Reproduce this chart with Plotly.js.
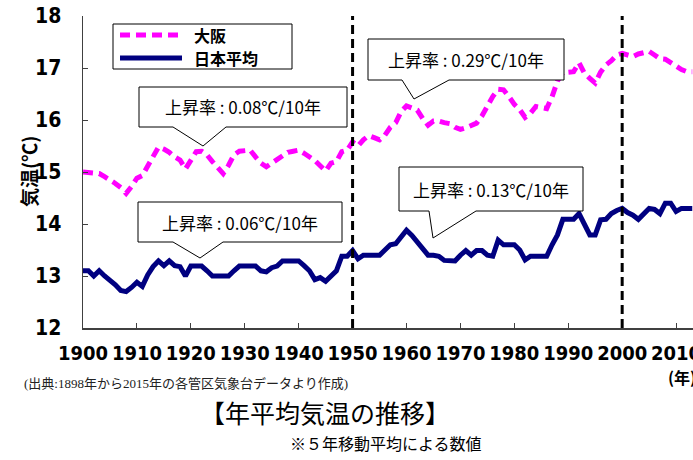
<!DOCTYPE html>
<html>
<head>
<meta charset="utf-8">
<script src="https://cdn.plot.ly/plotly-3.0.1.min.js"></script>
<style>
html,body{margin:0;padding:0;background:#fff;overflow:hidden;width:693px;height:460px;}
#chart{width:740px;height:460px;}
</style>
</head>
<body>
<div id="chart"></div>
<script>
const years = [
1900,1901,1902,1903,1904,1905,1906,1907,1908,1909,
1910,1911,1912,1913,1914,1915,1916,1917,1918,1919,
1920,1921,1922,1923,1924,1925,1926,1927,1928,1929,
1930,1931,1932,1933,1934,1935,1936,1937,1938,1939,
1940,1941,1942,1943,1944,1945,1946,1947,1948,1949,
1950,1951,1952,1953,1954,1955,1956,1957,1958,1959,
1960,1961,1962,1963,1964,1965,1966,1967,1968,1969,
1970,1971,1972,1973,1974,1975,1976,1977,1978,1979,
1980,1981,1982,1983,1984,1985,1986,1987,1988,1989,
1990,1991,1992,1993,1994,1995,1996,1997,1998,1999,
2000,2001,2002,2003,2004,2005,2006,2007,2008,2009,
2010,2011,2012,2013];

const osaka = [
15.00,14.99,14.98,14.97,14.91,14.85,14.78,14.70,14.59,14.72,
14.88,14.93,15.10,15.29,15.48,15.44,15.38,15.29,15.23,15.06,
15.22,15.39,15.40,15.33,15.20,15.07,14.97,15.13,15.33,15.40,
15.42,15.42,15.29,15.17,15.10,15.17,15.26,15.33,15.38,15.40,
15.42,15.36,15.29,15.22,15.12,15.02,15.17,15.20,15.39,15.42,
15.58,15.50,15.62,15.70,15.66,15.62,15.71,15.86,15.95,16.16,
16.27,16.24,16.19,16.03,15.90,15.98,15.98,15.95,15.93,15.86,
15.82,15.85,15.90,15.94,16.08,16.29,16.45,16.59,16.58,16.45,
16.30,16.20,16.05,16.13,16.26,16.24,16.22,16.45,16.75,16.91,
16.92,16.93,17.10,16.90,16.80,16.71,16.92,17.06,17.14,17.25,
17.28,17.24,17.22,17.27,17.30,17.32,17.25,17.18,17.17,17.10,
17.02,16.97,16.93,16.93];

const japan = [
13.10,13.10,13.00,13.10,13.00,12.92,12.83,12.72,12.70,12.78,
12.88,12.80,13.02,13.18,13.29,13.20,13.29,13.20,13.18,13.00,
13.19,13.19,13.19,13.10,13.00,13.00,13.00,13.00,13.10,13.19,
13.19,13.19,13.19,13.10,13.08,13.16,13.19,13.29,13.29,13.29,
13.29,13.20,13.10,12.93,12.97,12.90,13.00,13.10,13.38,13.38,
13.49,13.33,13.40,13.40,13.40,13.40,13.50,13.60,13.62,13.76,
13.88,13.78,13.66,13.52,13.40,13.40,13.38,13.30,13.29,13.29,
13.40,13.49,13.40,13.49,13.49,13.40,13.38,13.69,13.60,13.60,
13.60,13.50,13.31,13.38,13.38,13.38,13.38,13.60,13.79,14.09,
14.09,14.09,14.20,14.00,13.79,13.79,14.08,14.09,14.20,14.26,
14.30,14.22,14.17,14.09,14.20,14.30,14.28,14.20,14.40,14.40,
14.24,14.30,14.30,14.30];

const seriesNames = ['大阪', '日本平均'];
const xTicks = [1900,1910,1920,1930,1940,1950,1960,1970,1980,1990,2000,2010,2020];
const yTicks = [12,13,14,15,16,17,18];
const dividerYears = [1950, 2000];
const rateLabels = ['上昇率 : 0.08℃/10年','上昇率 : 0.29℃/10年','上昇率 : 0.06℃/10年','上昇率 : 0.13℃/10年'];

// pixel -> paper helpers (plot area: left 83, top 16, width 647, height 312)
const L = 83, T = 16, PW = 647, PH = 312;
const px = x => (x - L) / PW;
const py = y => (T + PH - y) / PH;

const CJK = '"Noto Sans CJK JP", "Noto Sans", sans-serif';
const NUM = '"Liberation Sans Narrow", "Arial Narrow", "DejaVu Sans Condensed", "Liberation Sans", sans-serif';

const traces = [
  {x: years, y: osaka, type: 'scatter', mode: 'lines', name: seriesNames[0], showlegend: false,
   line: {color: '#FF00FF', width: 5, dash: '10px,6px'}},
  {x: years, y: japan, type: 'scatter', mode: 'lines', name: seriesNames[1], showlegend: false,
   line: {color: '#000080', width: 5}}
];

function callout(l, r, t, b, bl, br, tx, ty) {
  return {
    type: 'path', xref: 'paper', yref: 'paper', layer: 'above',
    path: `M${px(l)},${py(t)} L${px(r)},${py(t)} L${px(r)},${py(b)} L${px(br)},${py(b)} L${px(tx)},${py(ty)} L${px(bl)},${py(b)} L${px(l)},${py(b)} Z`,
    fillcolor: '#ffffff', line: {color: '#000000', width: 1}
  };
}

const boxes = [
  {l:139, r:347, t:87, b:127, bl:173, br:226, tx:203, ty:146},
  {l:368, r:564, t:39, b:80, bl:402, br:449, tx:414, ty:99},
  {l:138, r:342, t:202, b:242, bl:173, br:223, tx:200, ty:258},
  {l:399, r:583, t:167, b:211, bl:429, br:476, tx:433, ty:238}
];

const shapes = [];
dividerYears.forEach(yr => shapes.push({
  type: 'line', xref: 'x', yref: 'paper', x0: yr, x1: yr, y0: 0, y1: 1,
  line: {color: '#000000', width: 3, dash: '9px,5px'}
}));
boxes.forEach(b => shapes.push(callout(b.l, b.r, b.t, b.b, b.bl, b.br, b.tx, b.ty)));
// legend box + samples
shapes.push({type: 'rect', xref: 'paper', yref: 'paper', x0: px(113), x1: px(292), y0: py(69), y1: py(24),
  line: {color: '#000000', width: 1}, fillcolor: '#ffffff', layer: 'above'});
shapes.push({type: 'line', xref: 'paper', yref: 'paper', x0: px(120), x1: px(182), y0: py(35), y1: py(35),
  line: {color: '#FF00FF', width: 5, dash: '10px,6px'}, layer: 'above'});
shapes.push({type: 'line', xref: 'paper', yref: 'paper', x0: px(120), x1: px(182), y0: py(58), y1: py(58),
  line: {color: '#000080', width: 5}, layer: 'above'});

const annotations = [];
boxes.forEach((b, i) => annotations.push({
  xref: 'paper', yref: 'paper', x: px((b.l + b.r) / 2), y: py((b.t + b.b) / 2),
  text: rateLabels[i], showarrow: false, xanchor: 'center', yanchor: 'middle',
  font: {family: CJK, size: 17, color: '#000000'}
}));
annotations.push(
  {xref: 'paper', yref: 'paper', x: px(192), y: py(35), text: seriesNames[0], showarrow: false,
   xanchor: 'left', yanchor: 'middle', font: {family: CJK, size: 16, color: '#000', weight: 'bold'}},
  {xref: 'paper', yref: 'paper', x: px(192), y: py(58), text: seriesNames[1], showarrow: false,
   xanchor: 'left', yanchor: 'middle', font: {family: CJK, size: 16, color: '#000', weight: 'bold'}},
  {xref: 'paper', yref: 'paper', x: px(28), y: py(172), text: '気温(℃)', textangle: -90, showarrow: false,
   xanchor: 'center', yanchor: 'middle', font: {family: CJK, size: 19, color: '#000', weight: 'bold'}},
  {xref: 'paper', yref: 'paper', x: px(666), y: py(377), text: '(年)', showarrow: false,
   xanchor: 'left', yanchor: 'middle', font: {family: CJK, size: 16, color: '#000', weight: 'bold'}},
  {xref: 'paper', yref: 'paper', x: px(22), y: py(383), text: '(出典:1898年から2015年の各管区気象台データより作成)', showarrow: false,
   xanchor: 'left', yanchor: 'middle', font: {family: '"Liberation Serif", "Noto Sans CJK JP", serif', size: 13, color: '#222'}},
  {xref: 'paper', yref: 'paper', x: px(325), y: py(412), text: '【年平均気温の推移】', showarrow: false,
   xanchor: 'center', yanchor: 'middle', font: {family: CJK, size: 25, color: '#000'}},
  {xref: 'paper', yref: 'paper', x: px(386), y: py(443), text: '※５年移動平均による数値', showarrow: false,
   xanchor: 'center', yanchor: 'middle', font: {family: CJK, size: 16, color: '#000'}}
);

const layout = {
  width: 740, height: 460,
  margin: {l: 83, r: 10, t: 16, b: 132},
  paper_bgcolor: '#ffffff', plot_bgcolor: '#ffffff',
  showlegend: false,
  xaxis: {
    range: [1900, 2020], tickvals: xTicks, ticktext: xTicks.map(String), tickangle: 0,
    ticks: 'inside', ticklen: 5, tickcolor: '#404040', tickwidth: 1,
    showline: true, linecolor: '#404040', linewidth: 1.5,
    showgrid: false, zeroline: false, ticklabelstandoff: 6,
    tickfont: {family: NUM, size: 20, color: '#000', weight: 'bold'}
  },
  yaxis: {
    range: [12, 18], tickvals: yTicks, ticktext: yTicks.map(String),
    ticks: 'inside', ticklen: 5, tickcolor: '#404040', tickwidth: 1,
    showline: true, linecolor: '#404040', linewidth: 1.5,
    showgrid: false, zeroline: false, ticklabelstandoff: 16,
    tickfont: {family: NUM, size: 21, color: '#000', weight: 'bold'}
  },
  shapes: shapes,
  annotations: annotations
};

Plotly.newPlot('chart', traces, layout, {displayModeBar: false, staticPlot: true});
</script>
</body>
</html>
